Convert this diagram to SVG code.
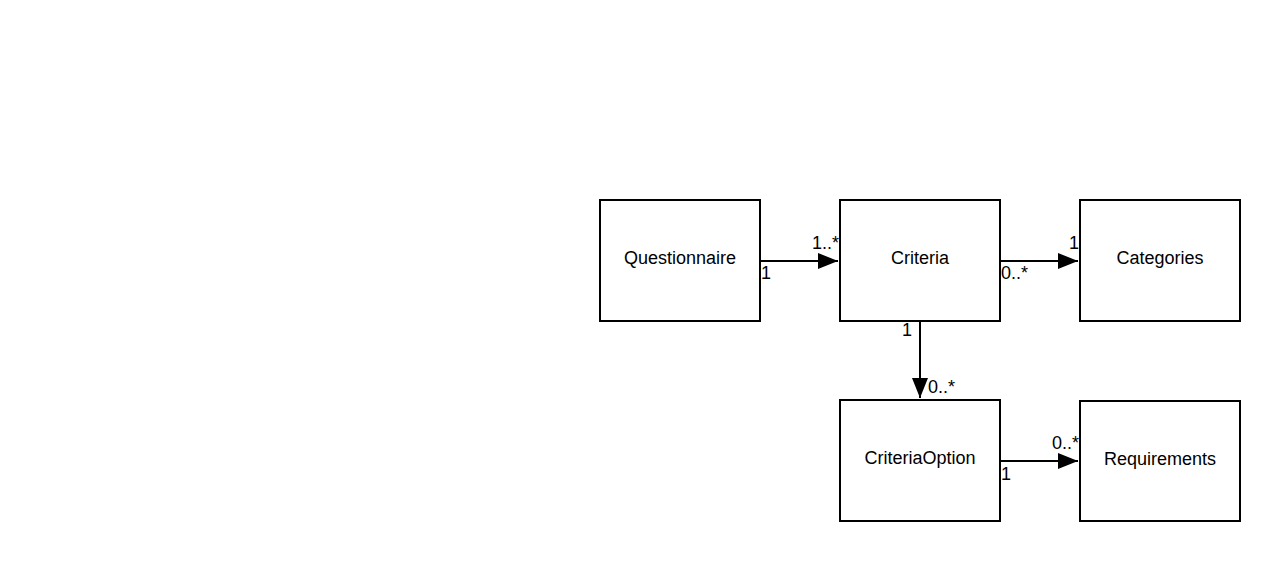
<svg xmlns="http://www.w3.org/2000/svg" width="1280" height="561" viewBox="0 0 1280 561">
<style>
.box{fill:#fff;stroke:#000;stroke-width:2}
.lbl{font-family:"Liberation Sans",Arial,sans-serif;font-size:18px;fill:#000;text-anchor:middle}
.m{font-family:"Liberation Sans",Arial,sans-serif;font-size:18px;fill:#000}
.edge{stroke:#000;stroke-width:2;fill:none;marker-end:url(#arr)}
</style>
<defs>
<marker id="arr" markerWidth="10" markerHeight="8" refX="10" refY="4" orient="auto" markerUnits="strokeWidth">
<path d="M0,0 L10,4 L0,8 Z" fill="#000"/>
</marker>
</defs>
<rect width="1280" height="561" fill="#fff"/>
<g id="edges">
<path class="edge" d="M760,261 H838"/>
<path class="edge" d="M1000,261 H1078"/>
<path class="edge" d="M920,321 V398"/>
<path class="edge" d="M1000,461 H1078"/>
<text class="m" x="761" y="279">1</text>
<text class="m" x="812" y="249">1..*</text>
<text class="m" x="1001" y="279">0..*</text>
<text class="m" x="1069" y="249">1</text>
<text class="m" x="902" y="336">1</text>
<text class="m" x="928" y="393">0..*</text>
<text class="m" x="1001" y="480">1</text>
<text class="m" x="1052" y="449">0..*</text>
</g>
<g id="questionnaire"><rect class="box" x="600" y="200" width="160" height="121"/><text class="lbl" x="680" y="264">Questionnaire</text></g>
<g id="criteria"><rect class="box" x="840" y="200" width="160" height="121"/><text class="lbl" x="920" y="264">Criteria</text></g>
<g id="categories"><rect class="box" x="1080" y="200" width="160" height="121"/><text class="lbl" x="1160" y="264">Categories</text></g>
<g id="criteriaoption"><rect class="box" x="840" y="400" width="160" height="121"/><text class="lbl" x="920" y="464">CriteriaOption</text></g>
<g id="requirements"><rect class="box" x="1080" y="401" width="160" height="120"/><text class="lbl" x="1160" y="465">Requirements</text></g>
</svg>
